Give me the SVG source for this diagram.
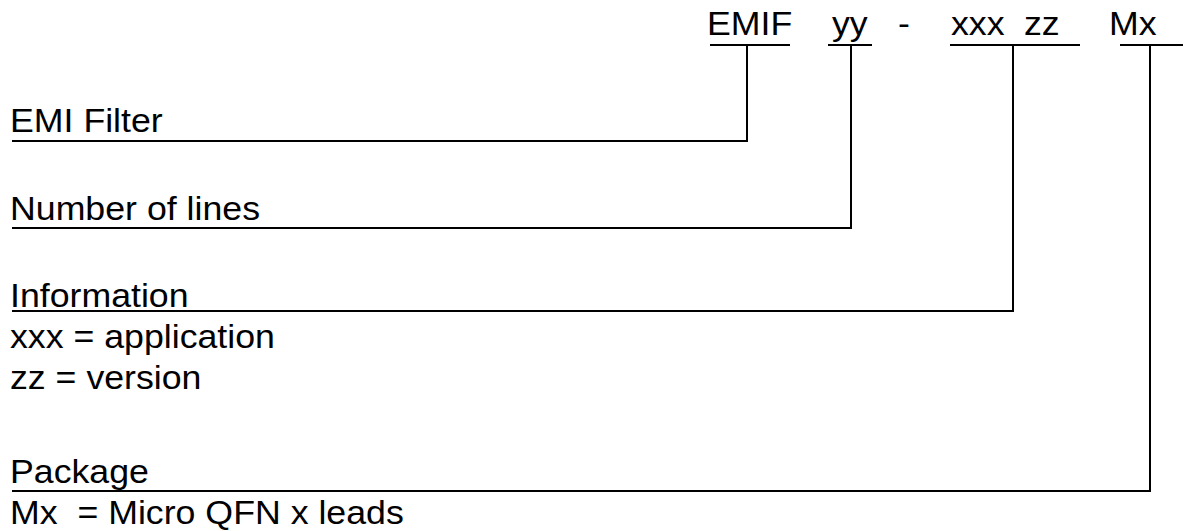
<svg xmlns="http://www.w3.org/2000/svg" width="1186" height="531" viewBox="0 0 1186 531">
<style>
text{font-family:"Liberation Sans",Arial,sans-serif;font-size:34px;fill:#000;white-space:pre}
.ln{stroke:#000;stroke-width:2;fill:none}
</style>
<rect width="1186" height="531" fill="#fff"/>
<g id="code">
<text transform="translate(707,35) scale(1.05,1)">EMIF</text>
<text transform="translate(832,35) scale(1.05,1)">yy</text>
<text transform="translate(898,35) scale(1.05,1)">-</text>
<text transform="translate(951,35) scale(1.05,1)">xxx</text>
<text transform="translate(1024,35) scale(1.05,1)">zz</text>
<text transform="translate(1109,35) scale(1.05,1)">Mx</text>
<line class="ln" x1="710" y1="45" x2="790" y2="45"/>
<line class="ln" x1="828" y1="45" x2="872" y2="45"/>
<line class="ln" x1="950" y1="45" x2="1080" y2="45"/>
<line class="ln" x1="1120" y1="45" x2="1183" y2="45"/>
</g>
<g id="emi-filter">
<text transform="translate(10,132) scale(1.05,1)">EMI Filter</text>
</g>
<g id="number-of-lines">
<text transform="translate(10,220) scale(1.05,1)">Number of lines</text>
</g>
<g id="information">
<text transform="translate(10,307) scale(1.05,1)">Information</text>
<text transform="translate(10,348) scale(1.05,1)">xxx = application</text>
<text transform="translate(10,389) scale(1.05,1)">zz = version</text>
</g>
<g id="package">
<text transform="translate(10,483) scale(1.05,1)">Package</text>
<text transform="translate(10,524) scale(1.05,1)">Mx  = Micro QFN x leads</text>
</g>
<g id="connectors">
<polyline class="ln" points="12,141 747,141 747,45"/>
<polyline class="ln" points="12,228 851,228 851,45"/>
<polyline class="ln" points="12,311 1013,311 1013,45"/>
<polyline class="ln" points="12,491 1150,491 1150,45"/>
</g>
</svg>
